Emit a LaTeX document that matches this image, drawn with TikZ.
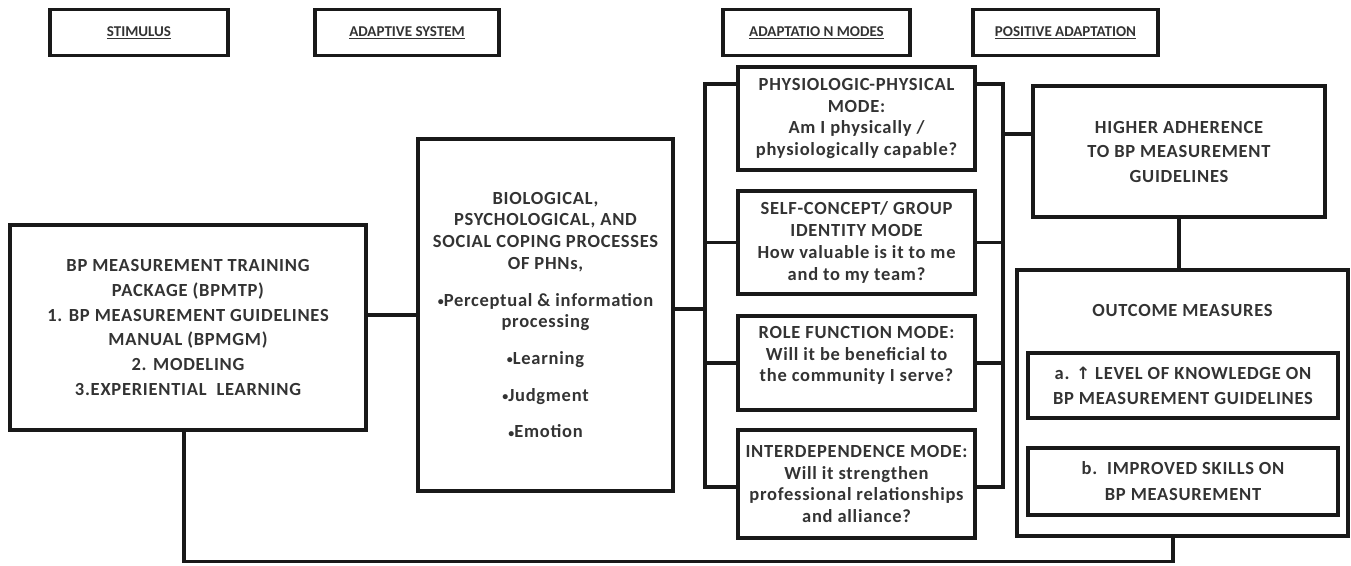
\documentclass[tikz,border=0pt]{standalone}
\usepackage{fontspec}
\setmainfont{Carlito}
\newfontfamily\dvfont{DejaVu Sans}
\newcommand{\bul}{{\fontsize{12}{12}\selectfont\raisebox{0.5pt}{•}}}
\begin{document}
\begin{tikzpicture}[x=1pt,y=-1pt,
  box/.style={draw=black!90, line width=3.6pt, align=center, inner sep=0pt, text=black!80},
  head/.style={box, minimum height=46pt, font=\bfseries\fontsize{15}{17}\selectfont},
  conn/.style={draw=black!90, line width=3.8pt},
  fs/.style={font=\bfseries\fontsize{18.5}{#1}\selectfont\addfontfeatures{LetterSpace=4}}]
\useasboundingbox (0,0) rectangle (1351,565);
% headers
\node[head, minimum width=178pt] (h1) at (139,32.5) {\underline{STIMULUS}};
\node[head, minimum width=184pt] (h2) at (407,32.5) {\underline{ADAPTIVE SYSTEM}};
\node[head, minimum width=187pt] (h3) at (816.5,32.5) {\underline{ADAPTATIO N MODES}};
\node[head, minimum width=185pt] (h4) at (1065.5,32.5) {\underline{POSITIVE ADAPTATION}};
% stimulus
\node[box, minimum width=356pt, minimum height=205pt, fs=24.7] (stim) at (188,327.5)
 {BP MEASUREMENT TRAINING\\PACKAGE (BPMTP)\\1. BP MEASUREMENT GUIDELINES\\MANUAL (BPMGM)\\2. MODELING\\3.EXPERIENTIAL\ \ LEARNING};
% adaptive system
\node[box, minimum width=255pt, minimum height=352pt, fs=21.7] (adapt) at (545.5,315)
 {BIOLOGICAL,\\PSYCHOLOGICAL, AND\\SOCIAL COPING PROCESSES\\OF PHNs,\\[15pt]
  \bul Perceptual \& information\\processing\\[15pt]\bul Learning\\[15pt]\bul Judgment\\[15pt]\bul Emotion};
% modes
\tikzset{mode/.style={box, minimum width=237pt, fs=21.7}}
\node[mode, minimum height=103pt] (m1) at (856.5,118.5) {PHYSIOLOGIC-PHYSICAL\\MODE:\\Am I physically /\\physiologically capable?};
\node[mode, minimum height=103pt] (m2) at (856.5,242.5) {SELF-CONCEPT/ GROUP\\IDENTITY MODE\\How valuable is it to me\\and to my team?};
\node[mode, minimum height=94pt, text depth=18pt] (m3) at (856.5,363) {ROLE FUNCTION MODE:\\Will it be beneficial to\\the community I serve?};
\node[mode, minimum height=108pt] (m4) at (856.5,484) {INTERDEPENDENCE MODE:\\Will it strengthen\\professional relationships\\and alliance?};
% positive adaptation
\node[box, minimum width=292pt, minimum height=131pt, fs=24.5] (high) at (1179,151.5)
 {HIGHER ADHERENCE\\TO BP MEASUREMENT\\GUIDELINES};
\node[box, minimum width=331pt, minimum height=266pt] (outc) at (1182.5,403) {};
\node[fs=20, text=black!80] (otitle) at (1182.5,310) {OUTCOME MEASURES};
\node[box, minimum width=310pt, minimum height=65pt, fs=25] (oa) at (1183,385.5)
 {a. {\dvfont\bfseries\fontsize{17}{25}\selectfont ↑} LEVEL OF KNOWLEDGE ON\\BP MEASUREMENT GUIDELINES};
\node[box, minimum width=310pt, minimum height=67pt, fs=26] (ob) at (1183,481.5)
 {b.\ \ IMPROVED SKILLS ON\\BP MEASUREMENT};
% connectors
\coordinate (lbT) at (705,84);
\coordinate (lbB) at (705,487);
\coordinate (rbT) at (1003,84);
\coordinate (rbB) at (1003,487);
\coordinate (botL) at (184,561.5);
\coordinate (botR) at (1173,561.5);
\draw[conn] (adapt.west) -- (adapt.west -| stim.east);
\draw[conn] ([yshift=6pt]adapt.east) -- ([yshift=6pt]adapt.east -| lbT);
\draw[conn] (m1.west |- lbT) -- (lbT) -- (lbB) -- (m4.west |- lbB);
\draw[conn] (m2.west) -- (m2.west -| lbT);
\draw[conn] (m3.west) -- (m3.west -| lbT);
\draw[conn] (m1.east |- rbT) -- (rbT) -- (rbB) -- (m4.east |- rbB);
\draw[conn] (m2.east) -- (m2.east -| rbT);
\draw[conn] (m3.east) -- (m3.east -| rbT);
\draw[conn] ([yshift=17.5pt]high.west) -- ([yshift=17.5pt]high.west -| rbT);
\draw[conn] (high.south) -- (high.south |- outc.north);
\draw[conn] (stim.south -| botL) -- (botL) -- (botR) -- (botR |- outc.south);
\end{tikzpicture}
\end{document}
